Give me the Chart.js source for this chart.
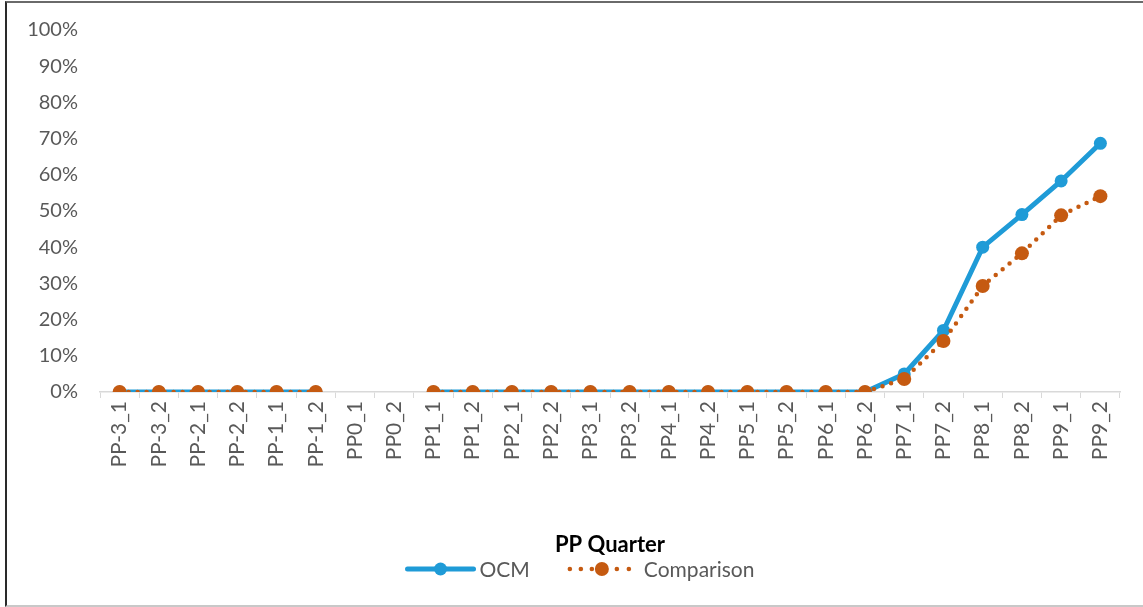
<!DOCTYPE html>
<html>
<head>
<meta charset="utf-8">
<script src="https://cdn.jsdelivr.net/npm/chart.js@4"></script>
<style>
  body { margin: 0; background: #fff; }
  #frame {
    position: absolute; left: 5px; top: 1px; width: 1160px; height: 602px;
    border-left: 2px solid #2a2a2a; border-top: 2px solid #6a6a6a; border-bottom: 2px solid #c8c8c8;
  }
  #wrap { position: absolute; left: 0; top: 0; width: 1143px; height: 607px; }
</style>
</head>
<body>
<div id="frame"></div>
<div id="wrap"><canvas id="myChart" width="1143" height="607"></canvas></div>
<script>
const quarters = [
  "PP-3_1", "PP-3_2", "PP-2_1", "PP-2_2", "PP-1_1", "PP-1_2", "PP0_1", "PP0_2",
  "PP1_1", "PP1_2", "PP2_1", "PP2_2", "PP3_1", "PP3_2", "PP4_1", "PP4_2",
  "PP5_1", "PP5_2", "PP6_1", "PP6_2", "PP7_1", "PP7_2", "PP8_1", "PP8_2", "PP9_1", "PP9_2",
];
const ocmValues = [
  0, 0, 0, 0, 0, 0, null, null,
  0, 0, 0, 0, 0, 0, 0, 0,
  0, 0, 0, 0, 0.05, 0.17, 0.40, 0.49, 0.583, 0.687,
];
const comparisonValues = [
  0, 0, 0, 0, 0, 0, null, null,
  0, 0, 0, 0, 0, 0, 0, 0,
  0, 0, 0, 0, 0.036, 0.141, 0.293, 0.383, 0.488, 0.541,
];
const yTicks = [0, 0.1, 0.2, 0.3, 0.4, 0.5, 0.6, 0.7, 0.8, 0.9, 1];
const seriesNames = ["OCM", "Comparison"];

const BLUE = "#1f9bd7";
const ORANGE = "#c55a11";
const TEXT = "#595959";

function drawLegendIcon(g, kind, x, y) {
  g.save();
  g.lineCap = "round";
  if (kind === 0) {
    g.strokeStyle = BLUE;
    g.lineWidth = 5;
    g.beginPath();
    g.moveTo(x + 3, y);
    g.lineTo(x + 69, y);
    g.stroke();
    g.fillStyle = BLUE;
    g.beginPath();
    g.arc(x + 36, y, 6.5, 0, Math.PI * 2);
    g.fill();
  } else {
    g.fillStyle = ORANGE;
    [3, 14, 25, 50, 62].forEach((dx) => {
      g.beginPath();
      g.arc(x + dx, y, 2.3, 0, Math.PI * 2);
      g.fill();
    });
    g.beginPath();
    g.arc(x + 35, y, 7, 0, Math.PI * 2);
    g.fill();
  }
  g.restore();
}

// legend drawn by hand so the line + marker symbols look like the original
const bottomLegend = {
  id: "bottomLegend",
  afterDraw(chart) {
    const g = chart.ctx;
    g.save();
    g.font = "21px Lato";
    g.fillStyle = TEXT;
    g.textBaseline = "middle";
    const iconW = [72, 66];
    const textGap = [3, 11];
    const itemGap = 37;
    const widths = seriesNames.map((n, i) => iconW[i] + textGap[i] + g.measureText(n).width);
    const total = widths[0] + itemGap + widths[1];
    let x = chart.width / 2 + 8 - total / 2;
    const y = 569;
    seriesNames.forEach((n, i) => {
      drawLegendIcon(g, i, x, y);
      g.fillText(n, x + iconW[i] + textGap[i], y + 1);
      x += widths[i] + itemGap;
    });
    g.restore();
  },
};

const ctx = document.getElementById("myChart").getContext("2d");
Chart.defaults.font.family = "Lato";
Chart.defaults.color = TEXT;

new Chart(ctx, {
  type: "line",
  data: {
    labels: quarters,
    datasets: [
      {
        label: seriesNames[0],
        data: ocmValues,
        borderColor: BLUE,
        backgroundColor: BLUE,
        borderWidth: 5,
        pointRadius: 6.5,
        pointBorderWidth: 0,
        pointBackgroundColor: BLUE,
        tension: 0,
        spanGaps: false,
        order: 1,
      },
      {
        label: seriesNames[1],
        data: comparisonValues,
        borderColor: ORANGE,
        backgroundColor: ORANGE,
        borderWidth: 4.5,
        borderDash: [0, 9],
        borderCapStyle: "round",
        pointRadius: 7,
        pointBorderWidth: 0,
        pointBackgroundColor: ORANGE,
        tension: 0,
        spanGaps: false,
        order: 0,
      },
    ],
  },
  plugins: [bottomLegend],
  options: {
    responsive: false,
    animation: false,
    layout: { padding: { top: 30, right: 23, left: 0, bottom: 49 } },
    plugins: {
      tooltip: { enabled: false },
      legend: { display: false },
    },
    scales: {
      x: {
        offset: true,
        grid: { display: true, drawOnChartArea: false, drawTicks: true, tickLength: 6, color: "#d9d9d9", offset: true },
        border: { display: true, color: "#d9d9d9", width: 1.5 },
        ticks: {
          autoSkip: false,
          maxRotation: 90,
          minRotation: 90,
          padding: 3,
          color: TEXT,
          font: { size: 21 },
        },
        title: {
          display: true,
          text: "PP Quarter",
          color: "#000",
          font: { size: 22, weight: "bold" },
          padding: { top: 0, bottom: 0 },
        },
        afterFit: (scale) => {
          scale.height = 166;
          scale.paddingLeft = 0;
          scale.paddingRight = 0;
        },
      },
      y: {
        min: 0,
        max: 1,
        afterBuildTicks: (scale) => { scale.ticks = yTicks.map((v) => ({ value: v })); },
        grid: { display: false },
        border: { display: false },
        ticks: {
          padding: 14,
          color: TEXT,
          font: { size: 20 },
          callback: (v) => Math.round(v * 100) + "%",
        },
        afterFit: (scale) => {
          scale.width = 100;
          scale.paddingTop = 0;
          scale.paddingBottom = 0;
        },
      },
    },
  },
});
</script>
</body>
</html>
